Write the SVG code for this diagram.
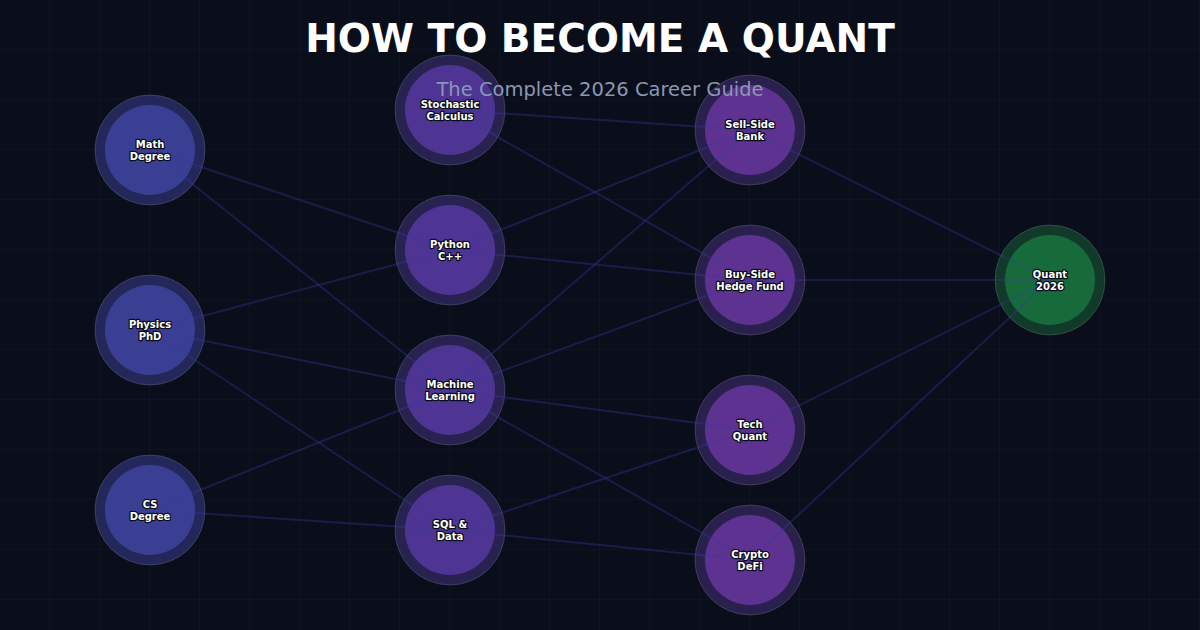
<svg xmlns="http://www.w3.org/2000/svg" width="1200" height="630" viewBox="0 0 1200 630">
<defs>
<pattern id="grid" width="50" height="50" patternUnits="userSpaceOnUse">
<path d="M50 0V50M0 50H50" fill="none" stroke="#111829" stroke-width="1"/>
</pattern>
<style>
.edge{stroke:#3a3aa6;stroke-opacity:0.35;stroke-width:2;fill:none}
.ring{stroke:#ffffff;stroke-opacity:0.15;stroke-width:1}
.lbl{font-family:"DejaVu Sans",sans-serif;font-weight:bold;font-size:10px;fill:#ffffff;text-anchor:middle;stroke:#0a0e1a;stroke-width:2.5px;paint-order:stroke;stroke-linejoin:round}
.src .ring{fill:#23275a}.src .core{fill:#3b3f94}
.skill .ring{fill:#282250}.skill .core{fill:#4e3593}
.role .ring{fill:#2a204e}.role .core{fill:#5d3291}
.goal .ring{fill:#123a2a}.goal .core{fill:#176b3b}
</style>
</defs>
<rect width="1200" height="630" fill="#0a0e1a"/>
<rect width="1200" height="630" fill="url(#grid)"/>

<g id="nodes-back">
<g id="math" class="src"><circle class="ring" cx="150" cy="150" r="55"/><circle class="core" cx="150" cy="150" r="45"/></g>
<g id="physics" class="src"><circle class="ring" cx="150" cy="330" r="55"/><circle class="core" cx="150" cy="330" r="45"/></g>
<g id="cs" class="src"><circle class="ring" cx="150" cy="510" r="55"/><circle class="core" cx="150" cy="510" r="45"/></g>
<g id="stoch" class="skill"><circle class="ring" cx="450" cy="110" r="55"/><circle class="core" cx="450" cy="110" r="45"/></g>
<g id="python" class="skill"><circle class="ring" cx="450" cy="250" r="55"/><circle class="core" cx="450" cy="250" r="45"/></g>
<g id="ml" class="skill"><circle class="ring" cx="450" cy="390" r="55"/><circle class="core" cx="450" cy="390" r="45"/></g>
<g id="sql" class="skill"><circle class="ring" cx="450" cy="530" r="55"/><circle class="core" cx="450" cy="530" r="45"/></g>
<g id="sell" class="role"><circle class="ring" cx="750" cy="130" r="55"/><circle class="core" cx="750" cy="130" r="45"/></g>
<g id="buy" class="role"><circle class="ring" cx="750" cy="280" r="55"/><circle class="core" cx="750" cy="280" r="45"/></g>
<g id="tech" class="role"><circle class="ring" cx="750" cy="430" r="55"/><circle class="core" cx="750" cy="430" r="45"/></g>
<g id="crypto" class="role"><circle class="ring" cx="750" cy="560" r="55"/><circle class="core" cx="750" cy="560" r="45"/></g>
<g id="quant" class="goal"><circle class="ring" cx="1050" cy="280" r="55"/><circle class="core" cx="1050" cy="280" r="45"/></g>
</g>

<g id="connectors">
<line class="edge" x1="150" y1="150" x2="450" y2="250"/>
<line class="edge" x1="150" y1="150" x2="450" y2="390"/>
<line class="edge" x1="150" y1="330" x2="450" y2="250"/>
<line class="edge" x1="150" y1="330" x2="450" y2="390"/>
<line class="edge" x1="150" y1="330" x2="450" y2="530"/>
<line class="edge" x1="150" y1="510" x2="450" y2="390"/>
<line class="edge" x1="150" y1="510" x2="450" y2="530"/>
<line class="edge" x1="450" y1="110" x2="750" y2="130"/>
<line class="edge" x1="450" y1="110" x2="750" y2="280"/>
<line class="edge" x1="450" y1="250" x2="750" y2="130"/>
<line class="edge" x1="450" y1="250" x2="750" y2="280"/>
<line class="edge" x1="450" y1="390" x2="750" y2="130"/>
<line class="edge" x1="450" y1="390" x2="750" y2="280"/>
<line class="edge" x1="450" y1="390" x2="750" y2="430"/>
<line class="edge" x1="450" y1="390" x2="750" y2="560"/>
<line class="edge" x1="450" y1="530" x2="750" y2="430"/>
<line class="edge" x1="450" y1="530" x2="750" y2="560"/>
<line class="edge" x1="750" y1="130" x2="1050" y2="280"/>
<line class="edge" x1="750" y1="280" x2="1050" y2="280"/>
<line class="edge" x1="750" y1="430" x2="1050" y2="280"/>
<line class="edge" x1="750" y1="560" x2="1050" y2="280"/>
</g>

<g id="labels">
<text class="lbl" x="150" y="148">Math</text><text class="lbl" x="150" y="160">Degree</text>
<text class="lbl" x="150" y="328">Physics</text><text class="lbl" x="150" y="340">PhD</text>
<text class="lbl" x="150" y="508">CS</text><text class="lbl" x="150" y="520">Degree</text>
<text class="lbl" x="450" y="108">Stochastic</text><text class="lbl" x="450" y="120">Calculus</text>
<text class="lbl" x="450" y="248">Python</text><text class="lbl" x="450" y="260">C++</text>
<text class="lbl" x="450" y="388">Machine</text><text class="lbl" x="450" y="400">Learning</text>
<text class="lbl" x="450" y="528">SQL &amp;</text><text class="lbl" x="450" y="540">Data</text>
<text class="lbl" x="750" y="128">Sell-Side</text><text class="lbl" x="750" y="140">Bank</text>
<text class="lbl" x="750" y="278">Buy-Side</text><text class="lbl" x="750" y="290">Hedge Fund</text>
<text class="lbl" x="750" y="428">Tech</text><text class="lbl" x="750" y="440">Quant</text>
<text class="lbl" x="750" y="558">Crypto</text><text class="lbl" x="750" y="570">DeFi</text>
<text class="lbl" x="1050" y="278">Quant</text><text class="lbl" x="1050" y="290">2026</text>
</g>

<g id="title">
<text x="600" y="52" text-anchor="middle" font-family="'DejaVu Sans',sans-serif" font-weight="bold" font-size="39" fill="#ffffff">HOW TO BECOME A QUANT</text>
<text x="600" y="96" text-anchor="middle" font-family="'DejaVu Sans',sans-serif" font-size="19.5" fill="#8a97b3">The Complete 2026 Career Guide</text>
</g>
</svg>
